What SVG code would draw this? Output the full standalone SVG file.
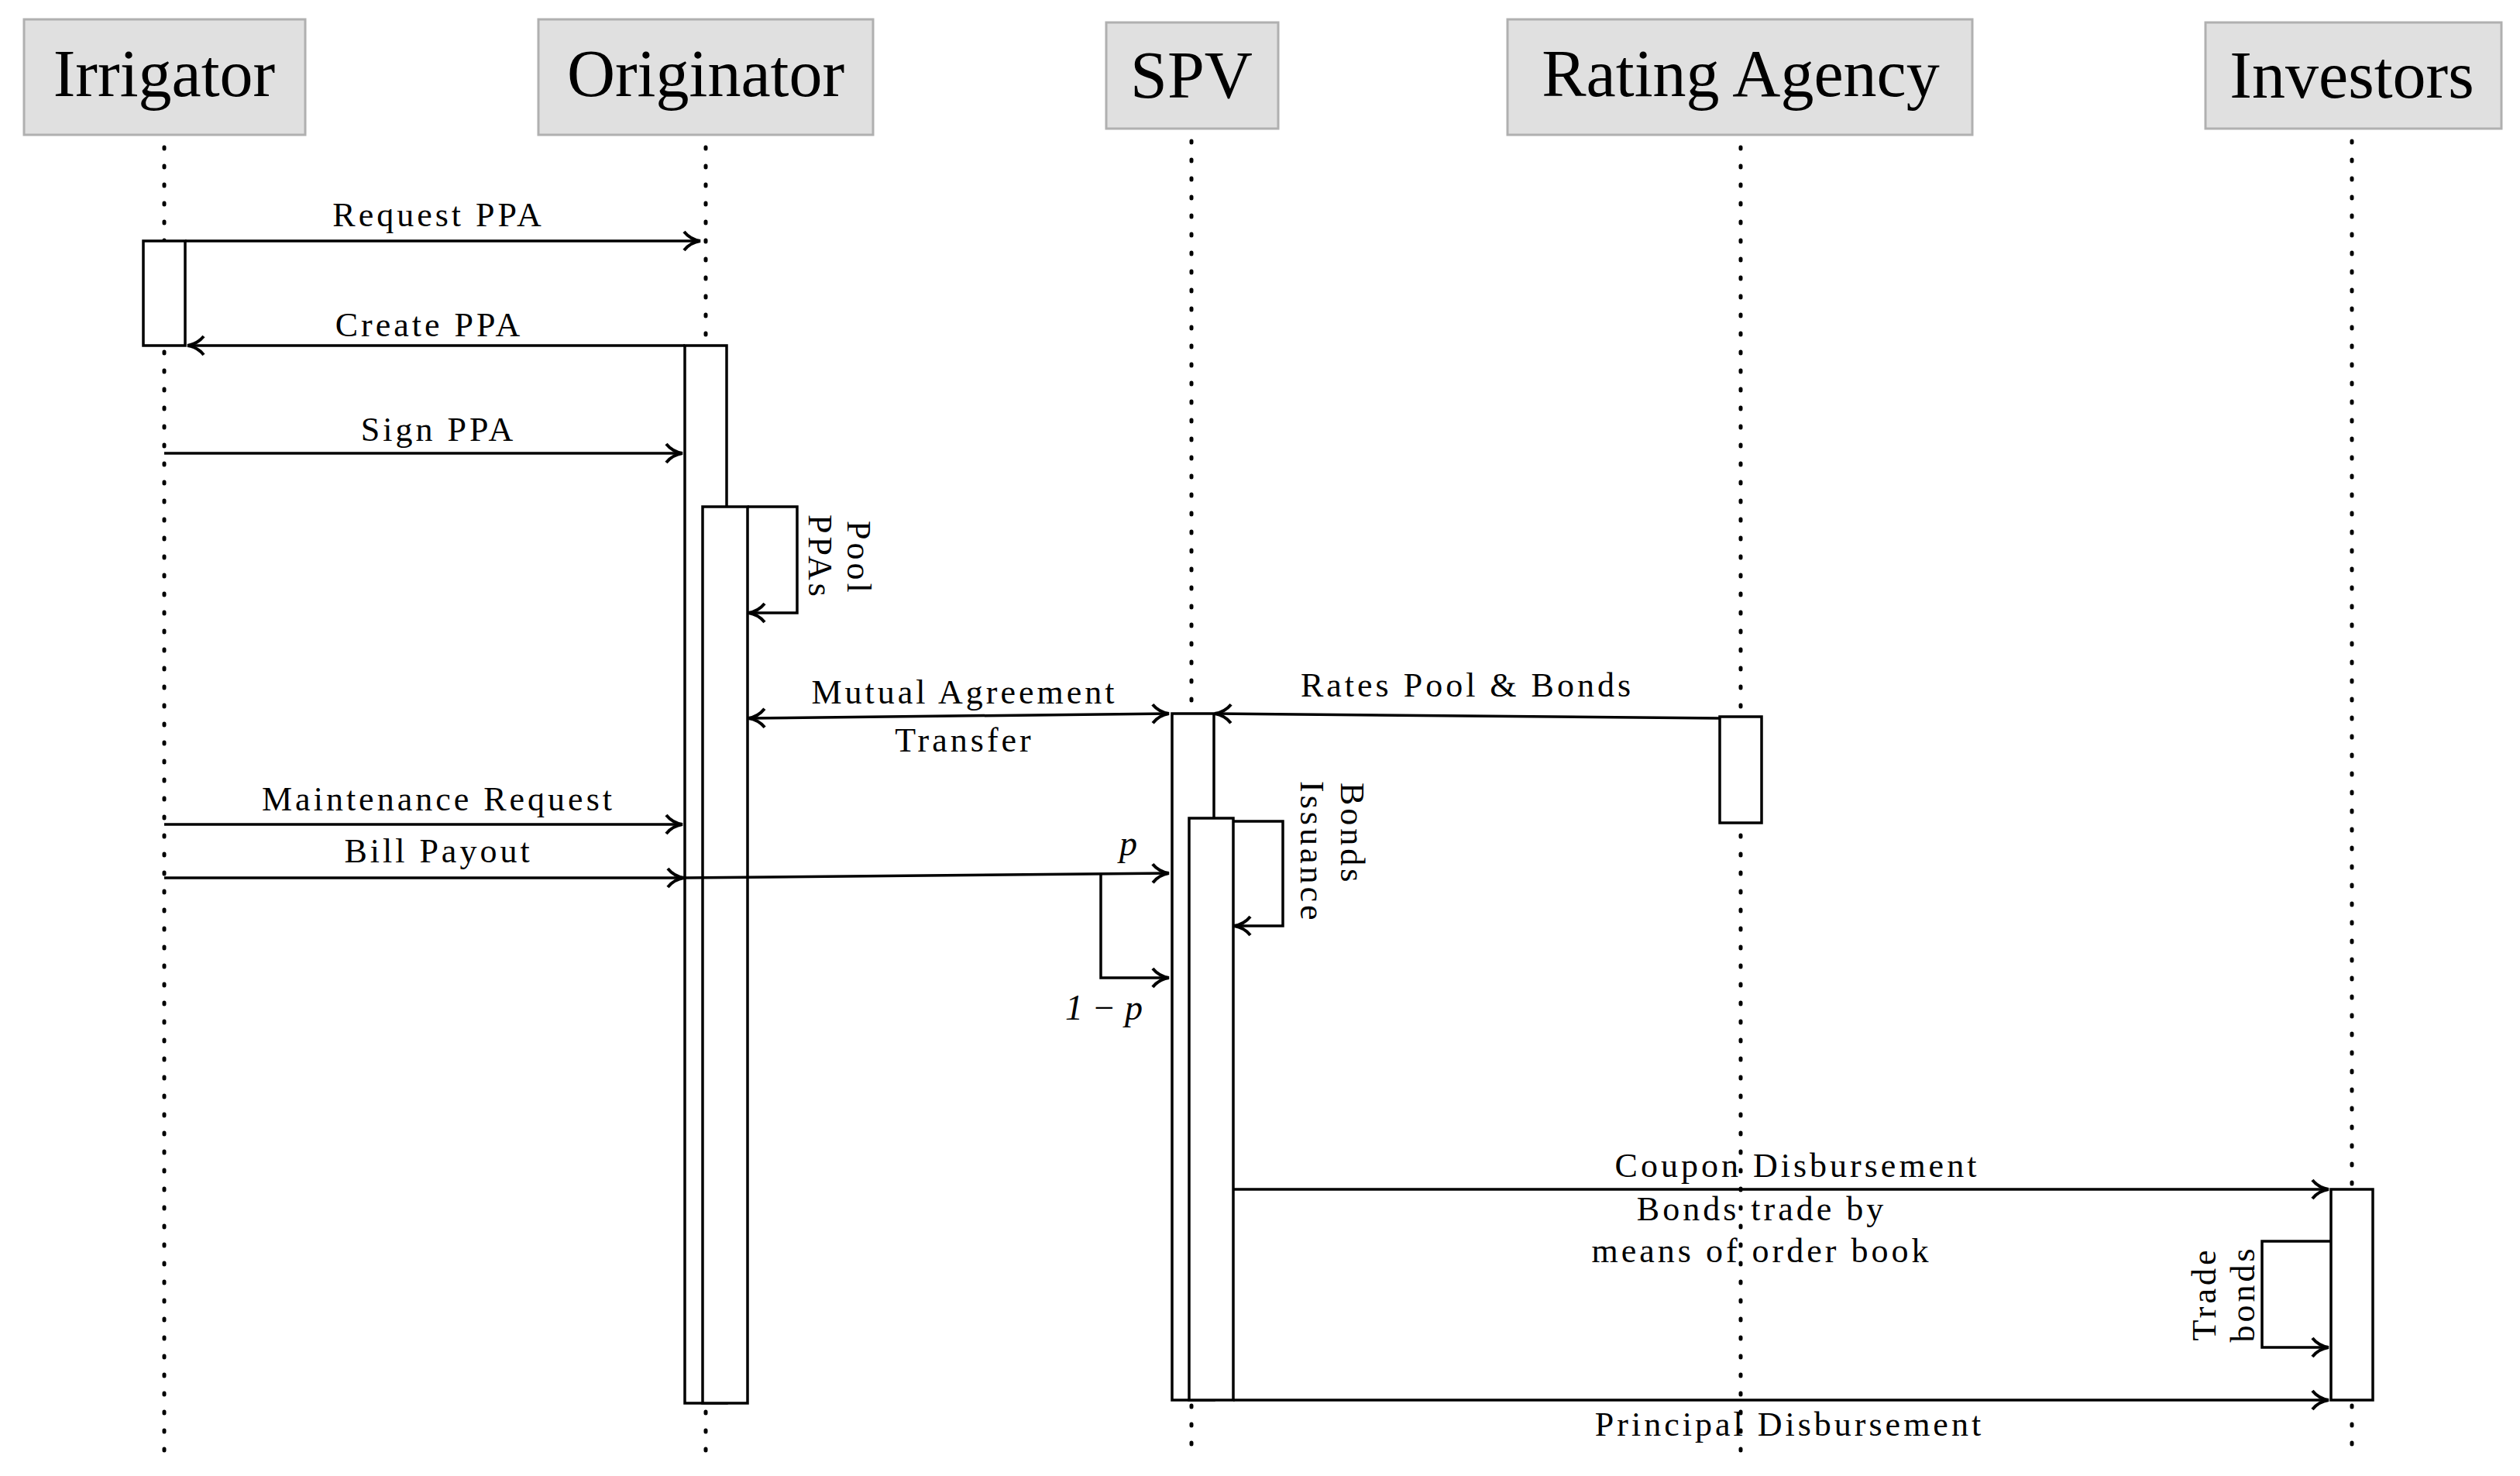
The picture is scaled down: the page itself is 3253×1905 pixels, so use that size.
<svg xmlns="http://www.w3.org/2000/svg" width="3253" height="1905" viewBox="0 0 3253 1905">
<style>
.hd{fill:#e0e0e0;stroke:#b0b0b0;stroke-width:3}
.ht{font-family:"Liberation Serif",serif;font-size:86px;text-anchor:middle}
.lf{stroke:#000;stroke-width:5;stroke-dasharray:2 22;stroke-linecap:round;fill:none}
.act{fill:#fff;stroke:#000;stroke-width:3.5}
.ln{stroke:#000;stroke-width:3.5;fill:none}
.t{font-family:"Liberation Serif",serif;font-size:44px;letter-spacing:4px;text-anchor:middle}
.it{font-family:"Liberation Serif",serif;font-size:46px;font-style:italic}
</style>
<defs>
<marker id="a" markerWidth="12" markerHeight="12" refX="10" refY="6" orient="auto-start-reverse" markerUnits="userSpaceOnUse" viewBox="0 0 12 12"><path d="M0,0 L11,6 L0,12" fill="none" stroke="#000" stroke-width="0"/></marker>
<marker id="h" markerWidth="30" markerHeight="30" refX="26" refY="15" orient="auto-start-reverse" markerUnits="userSpaceOnUse"><path d="M6,3 Q14,13 27,15 Q14,17 6,27" fill="none" stroke="#000" stroke-width="4"/></marker>
</defs>
<rect width="3253" height="1905" fill="#fff"/>
<g id="lifelines">
<line class="lf" x1="212" y1="190" x2="212" y2="1880"/>
<line class="lf" x1="911" y1="190" x2="911" y2="1880"/>
<line class="lf" x1="1538" y1="182" x2="1538" y2="1880"/>
<line class="lf" x1="2247" y1="190" x2="2247" y2="1880"/>
<line class="lf" x1="3036" y1="182" x2="3036" y2="1880"/>
</g>
<g id="irrigator"><rect class="hd" x="31" y="25" width="363" height="149"/><text class="ht" x="212" y="124">Irrigator</text></g>
<g id="originator"><rect class="hd" x="695" y="25" width="432" height="149"/><text class="ht" x="911" y="124">Originator</text></g>
<g id="spv"><rect class="hd" x="1428" y="29" width="222" height="137"/><text class="ht" x="1538" y="126">SPV</text></g>
<g id="rating-agency"><rect class="hd" x="1946" y="25" width="600" height="149"/><text class="ht" x="2247" y="124">Rating Agency</text></g>
<g id="investors"><rect class="hd" x="2847" y="29" width="382" height="137"/><text class="ht" x="3036" y="126">Investors</text></g>
<g id="activations">
<rect class="act" x="185" y="311" width="54" height="135"/>
<rect class="act" x="884" y="446" width="54" height="1365"/>
<rect class="act" x="907" y="654" width="58" height="1157"/>
<rect class="act" x="1513" y="921" width="54" height="886"/>
<rect class="act" x="1535" y="1056" width="57" height="751"/>
<rect class="act" x="2220" y="925" width="54" height="137"/>
<rect class="act" x="3009" y="1535" width="54" height="272"/>
</g>
<g id="connectors">
<line class="ln" x1="239" y1="311" x2="903" y2="311" marker-end="url(#h)"/>
<line class="ln" x1="884" y1="446" x2="243" y2="446" marker-end="url(#h)"/>
<line class="ln" x1="212" y1="585" x2="880" y2="585" marker-end="url(#h)"/>
<polyline class="ln" points="965,654 1029,654 1029,791 967,791" marker-end="url(#h)"/>
<line class="ln" x1="967" y1="927" x2="1508" y2="921" marker-start="url(#h)" marker-end="url(#h)"/>
<line class="ln" x1="2220" y1="927" x2="1569" y2="921" marker-end="url(#h)"/>
<line class="ln" x1="212" y1="1064" x2="880" y2="1064" marker-end="url(#h)"/>
<line class="ln" x1="212" y1="1133" x2="882" y2="1133" marker-end="url(#h)" stroke-width="4.5"/>
<line class="ln" x1="882" y1="1133" x2="1508" y2="1127" marker-end="url(#h)"/>
<polyline class="ln" points="1421,1127 1421,1262 1508,1262" marker-end="url(#h)"/>
<polyline class="ln" points="1592,1060 1656,1060 1656,1195 1594,1195" marker-end="url(#h)"/>
<line class="ln" x1="1592" y1="1535" x2="3005" y2="1535" marker-end="url(#h)"/>
<polyline class="ln" points="3009,1602 2920,1602 2920,1739 3005,1739" marker-end="url(#h)"/>
<line class="ln" x1="1592" y1="1807" x2="3005" y2="1807" marker-end="url(#h)"/>
</g>
<g id="labels">
<text class="t" x="566" y="292">Request PPA</text>
<text class="t" x="554" y="434">Create PPA</text>
<text class="t" x="566" y="569">Sign PPA</text>
<text class="t" transform="translate(1094,672) rotate(90)" x="0" y="0" text-anchor="start" style="text-anchor:start">Pool</text>
<text class="t" transform="translate(1044,664) rotate(90)" x="0" y="0" style="text-anchor:start">PPAs</text>
<text class="t" x="1245" y="908">Mutual Agreement</text>
<text class="t" x="1245" y="970">Transfer</text>
<text class="t" x="1894" y="899">Rates Pool &amp; Bonds</text>
<text class="t" x="566" y="1046">Maintenance Request</text>
<text class="t" x="566" y="1113">Bill Payout</text>
<text class="it" x="1445" y="1104">p</text>
<text class="it" x="1375" y="1316">1 − p</text>
<text class="t" transform="translate(1731,1010) rotate(90)" style="text-anchor:start">Bonds</text>
<text class="t" transform="translate(1679,1008) rotate(90)" style="text-anchor:start">Issuance</text>
<text class="t" x="2320" y="1519">Coupon Disbursement</text>
<text class="t" x="2274" y="1575">Bonds trade by</text>
<text class="t" x="2274" y="1629">means of order book</text>
<text class="t" transform="translate(2860,1670) rotate(-90)">Trade</text>
<text class="t" transform="translate(2910,1670) rotate(-90)">bonds</text>
<text class="t" x="2310" y="1853">Principal Disbursement</text>
</g>
</svg>
